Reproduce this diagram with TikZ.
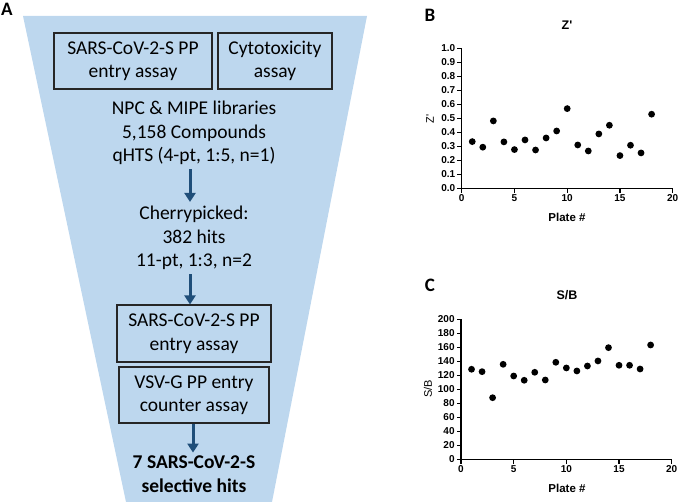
\documentclass[tikz,border=0pt]{standalone}
\usepackage{fontspec}
\setmainfont{Carlito}
\newfontfamily\arial{Liberation Sans}
\usetikzlibrary{arrows.meta}
\definecolor{funnelblue}{RGB}{189,215,238}
\definecolor{arrowblue}{RGB}{31,78,121}
\definecolor{boxline}{RGB}{38,38,38}
\tikzset{
  funneltext/.style={font=\fontsize{19.5}{23.5}\selectfont, align=center, inner sep=0pt},
  assaybox/.style={funneltext, draw=boxline, line width=1.1pt},
  flowarrow/.style={draw=arrowblue, line width=3pt, -{Triangle[width=11pt,length=9pt]}},
  plotaxis/.style={line width=1.4pt, line cap=rect},
  ticklab/.style={font=\arial\bfseries\fontsize{10}{12}\selectfont, inner sep=1.5pt},
  plottitle/.style={font=\arial\bfseries\fontsize{12.5}{15}\selectfont, inner sep=0pt},
  axlab/.style={font=\arial\bfseries\fontsize{11.5}{14}\selectfont, inner sep=0pt},
  ylab/.style={font=\arial\fontsize{11}{13}\selectfont, inner sep=0pt, rotate=90},
  panel/.style={font=\bfseries\fontsize{19}{22}\selectfont, inner sep=0pt},
  dot/.style={fill=black}
}
\begin{document}
\begin{tikzpicture}[x=1pt,y=-1pt]
\useasboundingbox (0,0) rectangle (678,502);
% ---------- Panel A ----------
\node[panel] (lA) at (7,9) {A};
\fill[funnelblue] (23,16) -- (367,16) -- (272,502) -- (126,502) -- cycle;
\node[assaybox, minimum width=158pt, minimum height=56pt] (sars1) at (133,61) {SARS-CoV-2-S PP\\entry assay};
\node[assaybox, minimum width=114pt, minimum height=56pt] (cyto) at (275,61) {Cytotoxicity\\assay};
\node[funneltext] (lib) at (194,133) {NPC \& MIPE libraries\\5,158 Compounds\\qHTS (4-pt, 1:5, n=1)};
\node[funneltext] (cherry) at (194,238) {Cherrypicked:\\382 hits\\11-pt, 1:3, n=2};
\node[assaybox, minimum width=154pt, minimum height=57pt] (sars2) at (194,333.5) {SARS-CoV-2-S PP\\entry assay};
\node[assaybox, minimum width=150pt, minimum height=56pt] (vsv) at (194,395) {VSV-G PP entry\\counter assay};
\node[funneltext, font=\bfseries\fontsize{19.5}{23.5}\selectfont] (hits) at (194,474) {7 SARS-CoV-2-S\\selective hits};
\draw[flowarrow, shorten <=4pt, shorten >=4pt] ([xshift=-4pt]lib.south) -- ([xshift=-4pt]cherry.north);
\draw[flowarrow, shorten <=4pt] ([xshift=-4pt]cherry.south) -- ([xshift=-4pt]sars2.north);
\draw[flowarrow, shorten >=3pt] ([xshift=-1pt]vsv.south) -- ([xshift=-1pt]hits.north);
% ---------- Panel B ----------
\node[panel] (lB) at (430,15) {B};
\node[plottitle] (tB) at (567,25) {Z'};
\node[ylab] (yB) at (430,119) {Z'};
\node[axlab] (xB) at (567,217) {Plate \#};
\begin{scope}[shift={(461.7pt,-188.3pt)}, x=10.55pt, y=139.8pt]
  \draw[plotaxis] (0,1) -- (0,0) -- (20,0);
  \foreach \v/\l in {0/0.0,0.1/0.1,0.2/0.2,0.3/0.3,0.4/0.4,0.5/0.5,0.6/0.6,0.7/0.7,0.8/0.8,0.9/0.9,1/1.0}
    \draw[line width=1.2pt] (0,\v) -- ++(-4.3pt,0) node[ticklab, anchor=east] (by\l) {\l};
  \foreach \x in {0,5,10,15,20}
    \draw[line width=1.2pt] (\x,0) -- ++(0,-4.3pt) node[ticklab, anchor=north] (bx\x) {\x};
  \foreach \x/\v in {1/0.334,2/0.294,3/0.482,4/0.332,5/0.277,6/0.346,7/0.274,8/0.360,9/0.410,10/0.570,11/0.310,12/0.267,13/0.389,14/0.451,15/0.234,16/0.308,17/0.253,18/0.530}
    \fill[dot] (\x,\v) circle (3.4pt);
\end{scope}
% ---------- Panel C ----------
\node[panel] (lC) at (430,285) {C};
\node[plottitle] (tC) at (567,295) {S/B};
\node[ylab] (yC) at (428,389) {S/B};
\node[axlab] (xC) at (567,488) {Plate \#};
\begin{scope}[shift={(461pt,-459.3pt)}, x=10.535pt, y=0.7pt]
  \draw[plotaxis] (0,200) -- (0,0) -- (20,0);
  \foreach \v in {0,20,...,200}
    \draw[line width=1.2pt] (0,\v) -- ++(-4.3pt,0) node[ticklab, anchor=east] (cy\v) {\v};
  \foreach \x in {0,5,10,15,20}
    \draw[line width=1.2pt] (\x,0) -- ++(0,-4.3pt) node[ticklab, anchor=north] (cx\x) {\x};
  \foreach \x/\v in {1/128.6,2/125.2,3/88,4/135.7,5/119,6/112.9,7/124.3,8/113.3,9/138.6,10/130.5,11/126.2,12/133.3,13/140.5,14/159.5,15/134.3,16/134.3,17/129,18/163.3}
    \fill[dot] (\x,\v) circle (3.4pt);
\end{scope}
\end{tikzpicture}
\end{document}
